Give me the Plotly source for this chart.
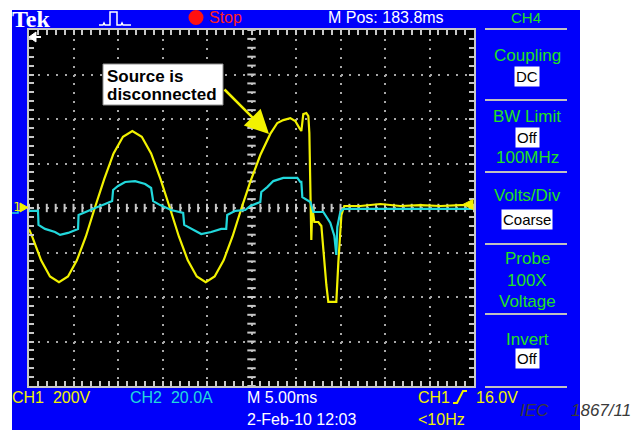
import plotly.graph_objects as go
import numpy as np

W, H = 632, 430

# ---------------- data (time in ms from left edge) ----------------
ch1_time_ms = [0.00, 0.35, 1.36, 2.36, 3.37, 4.38, 5.38, 6.39, 7.39,
               8.45, 9.50, 10.56, 11.61, 12.67, 13.72, 14.78, 15.83,
               16.84, 17.84, 18.85, 19.86, 20.86, 21.87, 22.87, 23.88,
               24.86, 25.99, 27.11, 27.90, 28.57, 29.36, 29.92, 30.37, 30.60,
               30.82, 31.16, 31.39, 31.50, 31.72, 31.83, 32.06, 32.51, 32.85,
               33.07, 33.41, 33.63, 34.53, 34.76, 35.10, 35.43,
               37.23, 39.48, 41.73, 43.98, 46.23, 48.48, 49.83]
ch1_volts = [-95, -128, -235, -308, -333, -308, -235, -128, 0,
             130, 245, 320, 346, 320, 245, 130, 0,
             -128, -235, -308, -333, -308, -235, -128, 0,
             117, 238, 333, 382, 395, 404, 391, 360, 346,
             422, 427, 413, 337, -144, 4, -63, -63, -81,
             -202, -346, -422, -422, -243, -31, 9,
             9, 18, 9, 13, 9, 13, 13]

ch2_time_ms = [0.00, 1.01, 1.07, 1.80, 2.92, 3.49, 4.39, 5.17, 5.51, 5.57, 6.30,
               7.42, 8.55, 9.34, 9.45, 10.01, 10.80, 11.92, 13.05, 13.72, 13.95,
               14.74, 15.97, 17.10, 17.32, 17.44, 18.34, 19.35, 20.47, 21.60,
               22.16, 22.27, 23.17, 24.30, 24.86, 25.99, 26.10, 26.77, 27.45,
               28.57, 30.15, 30.48, 30.60, 30.71, 31.61, 31.95, 33.07, 33.86,
               34.31, 34.53, 34.64, 34.98, 35.32, 38.0, 41.0, 44.0, 47.0, 49.83]
ch2_amps = [-1.3, -1.3, -7.6, -9.4, -10.8, -12.1, -11.2, -9.9, -9.4, -3.1, -1.8,
            0.0, 1.8, 3.1, 8.1, 9.9, 11.7, 12.1, 10.8, 9.0, 3.1,
            1.3, -0.9, -2.2, -2.2, -7.6, -9.4, -11.7, -10.8, -9.4,
            -9.4, -3.1, -1.3, -0.9, 0.9, 2.7, 7.2, 9.4, 12.1,
            13.5, 13.5, 11.7, 11.7, 4.9, 2.7, -1.8, -1.8, -6.7,
            -12.6, -21.1, -8.5, -1.8, -0.4, -0.4, -0.4, -0.4, -0.4, -0.4]

# scope settings
ch1_v_per_div = 200
ch2_a_per_div = 20
ms_per_div = 5
h_divs, v_divs = 10, 8
trigger_level_v = 16.0

# labels
top_labels = {"brand": "Tek", "state": "Stop", "mpos": "M Pos: 183.8ms"}
bottom_labels = {"ch1": "CH1\u00a0\u00a0200V", "ch2": "CH2\u00a0\u00a020.0A",
                 "tb": "M 5.00ms", "trig_ch": "CH1", "trig_lvl": "16.0V",
                 "date": "2-Feb-10 12:03", "freq": "&lt;10Hz"}
menu_title = "CH4"
menu_labels = ["Coupling", "BW Limit", "100MHz", "Volts/Div", "Probe", "100X", "Voltage", "Invert"]
menu_boxes = ["DC", "Off", "Coarse", "Off"]
callout = ["Source is", "disconnected"]
fig_id = ["IEC", "1867/11"]

# ---------------- styling ----------------
FONT = "Liberation Sans, Arial, sans-serif"
BLUE = "#0000fa"
YEL = "#f2f200"
CYN = "#22d8dc"
GRN = "#22e022"
GRAT = "#c8c8c8"

gl, gr, gt, gb = 29, 474, 30, 386  # graticule pixels


def PX(x):
    return x / W


def PY(y):
    return 1 - y / H


def path(points, close=False):
    s = "M " + " L ".join(f"{PX(x):.5f},{PY(y):.5f}" for x, y in points)
    return s + (" Z" if close else "")


shapes = []
annotations = []


def rect(x0, y0, x1, y1, fill, line=None, lw=0, layer="below"):
    shapes.append(dict(type="rect", xref="paper", yref="paper",
                       x0=PX(x0), x1=PX(x1), y0=PY(y1), y1=PY(y0),
                       fillcolor=fill, line=dict(color=line or fill, width=lw), layer=layer))


def line(pts, color, width, fill=None, close=False, layer="above"):
    d = dict(type="path", xref="paper", yref="paper", path=path(pts, close),
             line=dict(color=color, width=width), layer=layer)
    if fill:
        d["fillcolor"] = fill
    shapes.append(d)


def text(s, x, y, color, size, xanchor="left", yanchor="middle", family=FONT, **kw):
    annotations.append(dict(text=s, x=PX(x), y=PY(y), xref="paper", yref="paper",
                            showarrow=False, xanchor=xanchor, yanchor=yanchor,
                            font=dict(family=family, size=size, color=color), **kw))


# background panels
rect(12, 10, 580, 430, BLUE)
rect(gl, gt, gr, gb, "black")

# top bar
text("<b>" + top_labels["brand"] + "</b>", 11, 19, "white", 24,
     family="Liberation Serif, DejaVu Serif, serif", borderpad=0)
line([(99, 25), (103, 25), (104, 23), (105, 25), (110, 25), (110, 12), (117, 12),
      (117, 25), (121, 25), (122, 23), (123, 25), (131, 25)], "white", 1.5)
shapes.append(dict(type="circle", xref="paper", yref="paper",
                   x0=PX(188.5), x1=PX(203.5), y0=PY(25), y1=PY(10),
                   fillcolor="#ff1010", line=dict(color="#ff1010", width=0)))
text(top_labels["state"], 208, 17, "#ff2020", 16, borderpad=0)
text(top_labels["mpos"], 386, 17, "white", 16, xanchor="center", borderpad=0)
text(menu_title, 526, 17, GRN, 15, xanchor="center", borderpad=0)

# right menu
for yy in [29, 100, 172, 244, 314, 387]:
    line([(485, yy), (567, yy)], "#c0c0c0", 2)
menu_y = [55, 116, 157, 196, 258, 280, 301, 339]
for lab, yy in zip(menu_labels, menu_y):
    text(lab, 527, yy, GRN, 17, xanchor="center", borderpad=0)
for lab, yy in zip(menu_boxes, [77, 137, 219, 358]):
    text(lab, 527, yy, "black", 15, xanchor="center", bgcolor="white", borderpad=1)

# bottom status
text(bottom_labels["ch1"], 11, 397, YEL, 16, borderpad=0)
text(bottom_labels["ch2"], 129, 397, CYN, 16, borderpad=0)
text(bottom_labels["tb"], 246, 397, "white", 16, borderpad=0)
text(bottom_labels["trig_ch"], 417, 397, YEL, 16, borderpad=0)
line([(453, 403), (457, 403), (463, 391), (467, 391)], YEL, 2)
text(bottom_labels["trig_lvl"], 475, 397, YEL, 16, borderpad=0)
text(bottom_labels["date"], 246, 419, "white", 16, borderpad=0)
text(bottom_labels["freq"], 417, 419, YEL, 16, borderpad=0)
text("<i>" + fig_id[0] + "</i>", 519, 410, "#3a3a3a", 17, borderpad=0)
text("<i>" + fig_id[1] + "</i>", 632, 410, "#3a3a3a", 17, xanchor="right", borderpad=0)

# ground marker (left) and trigger markers
text("1", 12, 206, YEL, 13, family="DejaVu Sans Mono, monospace", borderpad=0)
line([(12, 213), (18, 213), (18, 210)], CYN, 1.5)
line([(20, 203), (28, 207.5), (20, 212)], YEL, 1, fill=YEL, close=True)
line([(29, 37), (36, 32), (36, 42)], "white", 1, fill="white", close=True)
line([(36, 37), (41, 37)], "white", 2)
trig_y = 208 - trigger_level_v / ch1_v_per_div * (gb - gt) / v_divs
line([(463, trig_y), (473, trig_y - 5), (473, trig_y + 5)], YEL, 1, fill=YEL, close=True)

# callout box and arrow
rect(103, 64, 223, 105, "white", line="#909090", lw=1, layer="above")
text("<b>" + callout[0] + "</b>", 106, 76, "black", 17, borderpad=0)
text("<b>" + callout[1] + "</b>", 106, 94, "black", 17, borderpad=0)
annotations.append(dict(text="", x=PX(269), y=PY(134), xref="paper", yref="paper",
                        ax=-46, ay=-46, axref="pixel", ayref="pixel", showarrow=True,
                        arrowhead=2, arrowsize=1.9, arrowwidth=2.5, arrowcolor=YEL))

# ---------------- figure ----------------
fig = go.Figure()

xr = [0, h_divs * ms_per_div]
yr = [-v_divs / 2 * ch1_v_per_div, v_divs / 2 * ch1_v_per_div]

# centre-line tick marks of graticule
cx = np.arange(0, xr[1] + 1e-9, ms_per_div / 5)
fig.add_trace(go.Scatter(x=cx, y=np.zeros_like(cx), mode="markers", hoverinfo="skip",
                         marker=dict(symbol="line-ns", size=6, line=dict(width=2, color=GRAT))))
cy = np.arange(yr[0], yr[1] + 1e-9, ch1_v_per_div / 5)
fig.add_trace(go.Scatter(x=np.full_like(cy, xr[1] / 2), y=cy, mode="markers", hoverinfo="skip",
                         marker=dict(symbol="line-ew", size=6, line=dict(width=2, color=GRAT))))

fig.add_trace(go.Scatter(x=ch2_time_ms, y=ch2_amps, yaxis="y2", mode="lines",
                         line=dict(color=CYN, width=2.2), name="CH2"))
fig.add_trace(go.Scatter(x=ch1_time_ms, y=ch1_volts, mode="lines",
                         line=dict(color=YEL, width=2.2), name="CH1"))

axis_common = dict(showticklabels=False, ticks="inside", ticklen=5, tickwidth=1.5,
                   tickcolor=GRAT, showline=True, linecolor=GRAT, linewidth=2,
                   mirror="ticks", zeroline=False, showgrid=True, gridcolor="#a8a8a8",
                   gridwidth=2, griddash="2px,6.9px", fixedrange=True)

fig.update_layout(
    width=W, height=H, margin=dict(l=0, r=0, t=0, b=0),
    paper_bgcolor="white", plot_bgcolor="rgba(0,0,0,0)", showlegend=False,
    xaxis=dict(domain=[PX(gl), PX(gr)], range=xr, tick0=0, dtick=ms_per_div,
               minor=dict(dtick=ms_per_div / 5, tick0=0, ticks="inside", ticklen=5,
                          tickwidth=1.5, tickcolor=GRAT, showgrid=False), **axis_common),
    yaxis=dict(domain=[PY(gb), PY(gt)], range=yr, tick0=0, dtick=ch1_v_per_div,
               minor=dict(dtick=ch1_v_per_div / 5, tick0=0, ticks="inside", ticklen=5,
                          tickwidth=1.5, tickcolor=GRAT, showgrid=False), **axis_common),
    yaxis2=dict(overlaying="y", range=[-v_divs / 2 * ch2_a_per_div, v_divs / 2 * ch2_a_per_div],
                visible=False, fixedrange=True),
    shapes=shapes, annotations=annotations,
)

fig.write_html("out.html")
